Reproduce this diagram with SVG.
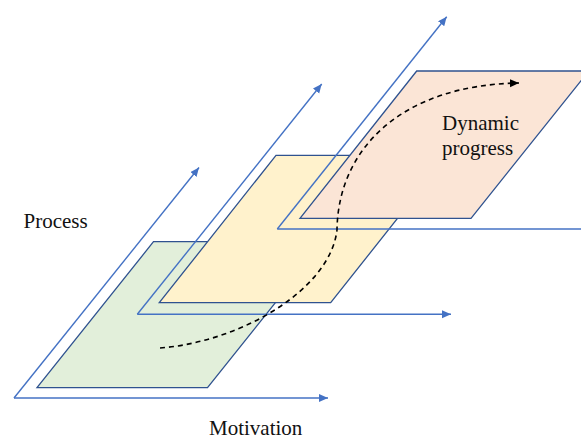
<svg xmlns="http://www.w3.org/2000/svg" width="581" height="439" viewBox="0 0 581 439">
<style>
.axis{fill:none;stroke:#4472C4;stroke-width:1.4}
.plane{stroke:#2F528F;stroke-width:1.3}
.lbl{font-family:"Liberation Serif","Times New Roman",serif;font-size:21px;fill:#111}
.flow{fill:none;stroke:#000;stroke-width:1.6;stroke-dasharray:5 4}
</style>
<defs>
<marker id="ab" markerUnits="userSpaceOnUse" markerWidth="10" markerHeight="9" refX="9" refY="4" orient="auto">
<path d="M0,0 L9,4 L0,8 Z" fill="#4472C4"/>
</marker>
<marker id="ak" markerUnits="userSpaceOnUse" markerWidth="10" markerHeight="9" refX="9" refY="4" orient="auto">
<path d="M0,0 L9,4 L0,8 Z" fill="#000"/>
</marker>
</defs>
<rect width="581" height="439" fill="#fff"/>
<g id="connectors">
<g id="axes1">
<path class="axis" d="M14,398 L328,398" marker-end="url(#ab)"/>
<path class="axis" d="M14,398 L199,167.5" marker-end="url(#ab)"/>
</g>
</g>
<g id="plane-green">
<polygon class="plane" fill="#E2EFDA" points="37,387.7 207.5,387.7 324,241.7 153.5,241.7"/>
</g>
<g id="axes2">
<path class="axis" d="M137.3,314.3 L451,314.3" marker-end="url(#ab)"/>
<path class="axis" d="M137.3,314.3 L321.7,84" marker-end="url(#ab)"/>
</g>
<g id="plane-yellow">
<polygon class="plane" fill="#FFF2CC" points="159.3,302.7 330.7,302.7 447.4,155.3 276,155.3"/>
</g>
<g id="axes3">
<path class="axis" d="M277.3,229 L581,229"/>
<path class="axis" d="M277.3,229 L446.7,16.7" marker-end="url(#ab)"/>
</g>
<g id="plane-pink">
<polygon class="plane" fill="#FBE5D6" points="300,218.3 471,218.3 588.8,71 416.7,71"/>
</g>
<g id="flow">
<path class="flow" d="M160,348 C240,342 330,290 337,230 C338,150 400,85 519,83" marker-end="url(#ak)"/>
</g>
<g id="labels">
<text class="lbl" x="23.5" y="228">Process</text>
<text class="lbl" x="209" y="434.5">Motivation</text>
<text class="lbl" x="442" y="130">Dynamic</text>
<text class="lbl" x="442" y="154.5">progress</text>
</g>
</svg>
